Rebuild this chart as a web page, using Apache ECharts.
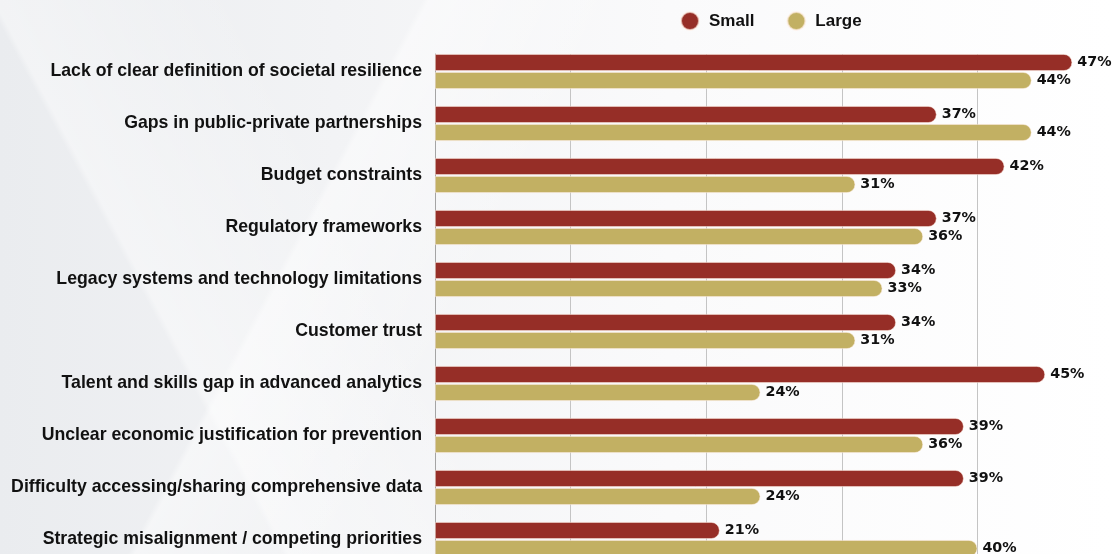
<!DOCTYPE html>
<html>
<head>
<meta charset="utf-8">
<script src="https://cdn.jsdelivr.net/npm/echarts@6/dist/echarts.min.js"></script>
<style>
  html, body { margin: 0; padding: 0; }
  body {
    width: 1113px; height: 554px; overflow: hidden;
    background:
      linear-gradient(118deg, rgba(255,255,255,0) 0%, rgba(255,255,255,0) 30%, rgba(255,255,255,0.45) 30.5%, rgba(255,255,255,0) 45%),
      linear-gradient(62deg, rgba(255,255,255,0) 20%, rgba(255,255,255,0.4) 20.5%, rgba(255,255,255,0) 38%),
      linear-gradient(90deg, #eaecef 0%, #f2f3f5 30%, #fafafb 60%, #ffffff 100%);
  }
  #chart { width: 1113px; height: 554px; }
</style>
</head>
<body>
<div id="chart"></div>
<script>
// Barriers to building societal resilience, by organisation size (% of respondents)
const categories = [
  'Lack of clear definition of societal resilience',
  'Gaps in public-private partnerships',
  'Budget constraints',
  'Regulatory frameworks',
  'Legacy systems and technology limitations',
  'Customer trust',
  'Talent and skills gap in advanced analytics',
  'Unclear economic justification for prevention',
  'Difficulty accessing/sharing comprehensive data',
  'Strategic misalignment / competing priorities'
];
const smallValues = [47, 37, 42, 37, 34, 34, 45, 39, 39, 21];
const largeValues = [44, 44, 31, 36, 33, 31, 24, 36, 24, 40];
const seriesNames = ['Small', 'Large'];

const RED = '#962e27';
const GOLD = '#c2b063';
const FONT = '"Liberation Sans", Arial, Helvetica, sans-serif';
const VALUE_FONT = '"DejaVu Sans", Verdana, sans-serif';

const chart = echarts.init(document.getElementById('chart'), null, { renderer: 'canvas' });

function barSeries(name, values, color) {
  return {
    name: name,
    type: 'bar',
    xAxisIndex: 0,
    yAxisIndex: 0,
    data: values,
    barWidth: 17,
    barGap: '6%',
    itemStyle: {
      color: color,
      borderColor: 'rgba(255,238,228,0.65)',
      borderWidth: 0.8,
      borderRadius: [0, 9, 9, 0]
    },
    label: {
      show: true,
      position: 'right',
      distance: 5,
      formatter: '{c}%',
      color: '#111',
      fontFamily: VALUE_FONT,
      fontWeight: 'bold',
      fontSize: 14.3
    },
    silent: true
  };
}

// Grid 0 holds the bars and category labels; grid 1 draws the axis rule and
// vertical gridlines, which start at the top edge of the first bar.
const gridBox = { left: 435, width: 678, height: 520, outerBoundsMode: 'none' };

chart.setOption({
  animation: false,
  legend: {
    data: seriesNames,
    top: 11,
    left: 680,
    padding: 0,
    icon: 'circle',
    itemWidth: 18,
    itemHeight: 18,
    itemGap: 32,
    textStyle: { fontFamily: FONT, fontWeight: 'bold', fontSize: 17, color: '#111', padding: [0, 0, 0, 5] }
  },
  grid: [
    Object.assign({ top: 45.5 }, gridBox),
    Object.assign({ top: 54 }, gridBox)
  ],
  xAxis: [
    {
      gridIndex: 0,
      type: 'value',
      min: 0,
      max: 50,
      interval: 10,
      axisLabel: { show: false },
      axisLine: { show: false },
      axisTick: { show: false },
      splitLine: { show: false }
    },
    {
      gridIndex: 1,
      type: 'value',
      min: 0,
      max: 50,
      interval: 10,
      axisLabel: { show: false },
      axisLine: { show: false },
      axisTick: { show: false },
      splitLine: { show: true, lineStyle: { color: '#c4c4c4', width: 1 } },
      z: 0
    }
  ],
  yAxis: [
    {
      gridIndex: 0,
      type: 'category',
      data: categories,
      inverse: true,
      axisLine: { show: false },
      axisTick: { show: false },
      axisLabel: {
        margin: 13,
        color: '#111',
        fontFamily: FONT,
        fontWeight: 'bold',
        fontSize: 17.7
      }
    },
    {
      gridIndex: 1,
      type: 'category',
      data: categories,
      inverse: true,
      axisLine: { show: true, lineStyle: { color: '#a4a4a4', width: 1 } },
      axisTick: { show: false },
      axisLabel: { show: false },
      z: 0
    }
  ],
  series: [
    barSeries(seriesNames[0], smallValues, RED),
    barSeries(seriesNames[1], largeValues, GOLD)
  ]
});
</script>
</body>
</html>
